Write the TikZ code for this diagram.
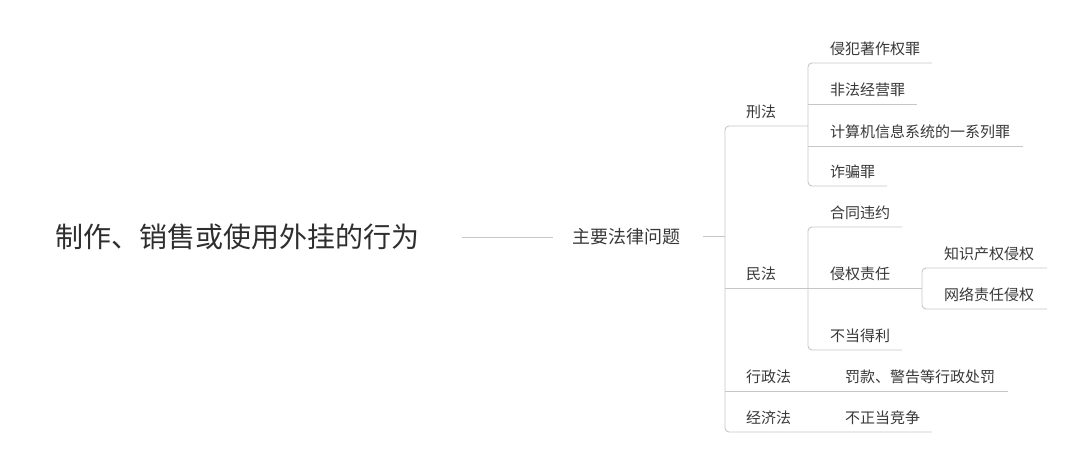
\documentclass[tikz,border=0pt]{standalone}
\usepackage{fontspec}
\setmainfont{Noto Sans CJK SC}
\begin{document}
\begin{tikzpicture}[x=1pt,y=-1pt,
  ln/.style={draw=black!22,line width=0.9pt,rounded corners=4pt},
  lbl/.style={anchor=west,inner sep=0pt,text=black!78,font=\fontsize{15}{15}\selectfont}]
\useasboundingbox (0,0) rectangle (1080,468);
\node[anchor=west,inner sep=0pt,text=black!82,font=\fontsize{28}{28}\selectfont] (root) at (55,237) {制作、销售或使用外挂的行为};
\node[anchor=west,inner sep=0pt,text=black!78,font=\fontsize{18}{18}\selectfont] (main) at (572,237) {主要法律问题};
\draw[ln] (462,237) -- (553,237);
\draw[ln] (703,236) -- (725,236);
% level 1
\node[lbl] (xf) at (746,112) {刑法};
\node[lbl] (mf) at (746,274) {民法};
\node[lbl] (xz) at (746,377) {行政法};
\node[lbl] (jj) at (746,418) {经济法};
\draw[ln] (808,126) -- (725,126) -- (725,432) -- (932,432);
\draw[ln] (725,288) -- (808,288);
\draw[ln] (725,391) -- (1008,391);
% criminal
\node[lbl] (a1) at (830,49) {侵犯著作权罪};
\node[lbl] (a2) at (830,90) {非法经营罪};
\node[lbl] (a3) at (830,132) {计算机信息系统的一系列罪};
\node[lbl] (a4) at (830,172) {诈骗罪};
\draw[ln] (932,63) -- (808,63) -- (808,186) -- (887,186);
\draw[ln] (808,104) -- (917,104);
\draw[ln] (808,146) -- (1023,146);
% civil
\node[lbl] (b1) at (830,213) {合同违约};
\node[lbl] (b2) at (830,274) {侵权责任};
\node[lbl] (b3) at (830,336) {不当得利};
\draw[ln] (902,227) -- (808,227) -- (808,350) -- (902,350);
\draw[ln] (808,288) -- (922,288);
\node[lbl] (c1) at (944,254) {知识产权侵权};
\node[lbl] (c2) at (944,295) {网络责任侵权};
\draw[ln] (1047,268) -- (922,268) -- (922,309) -- (1047,309);
% admin / econ
\node[lbl] (d1) at (845,377) {罚款、警告等行政处罚};
\node[lbl] (e1) at (845,418) {不正当竞争};
\end{tikzpicture}
\end{document}
